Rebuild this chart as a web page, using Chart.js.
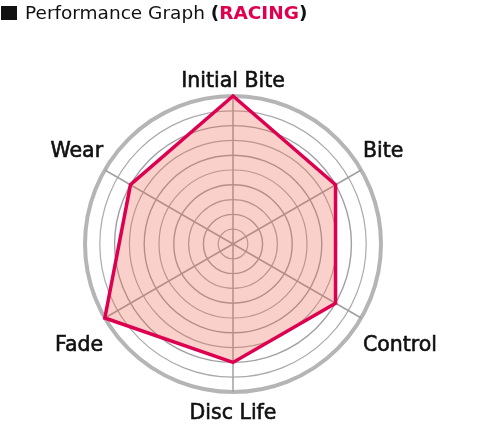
<!DOCTYPE html>
<html>
<head>
<meta charset="utf-8">
<script src="https://cdn.jsdelivr.net/npm/chart.js@4/dist/chart.umd.min.js"></script>
<style>
  html, body { margin: 0; padding: 0; background: #fff; }
  #wrap { position: relative; width: 500px; height: 425px; }
  #title {
    position: absolute; left: 1px; top: 3px;
    font-family: "DejaVu Sans", sans-serif;
    font-size: 18.5px; color: #111; line-height: 20px; white-space: nowrap;
  }
  #title .sq { display: inline-block; width: 16px; height: 14px; background: #111; margin-right: 8px; vertical-align: -1px; }
  #title b { font-weight: bold; }
  #title .red { color: #e0004e; }
  #chartBox { position: absolute; left: 0; top: 0; width: 500px; height: 425px; }
</style>
</head>
<body>
<div id="wrap">
  <div id="chartBox"><canvas id="radar" width="500" height="425"></canvas></div>
  <div id="title"><span class="sq"></span>Performance Graph <b>(<span class="red">RACING</span>)</b></div>
</div>
<script>
const categories = ["Initial Bite", "Bite", "Control", "Disc Life", "Fade", "Wear"];
const racingValues = [10, 8, 8, 8, 10, 8];
const scaleMax = 10;

const ctx = document.getElementById("radar").getContext("2d");

// axis names drawn next to the outer ring, placed from the scale's own positions
const axisLabelPlugin = {
  id: "axisLabels",
  afterDraw(chart) {
    const { ctx } = chart;
    const scale = chart.scales.r;
    const cx = scale.xCenter;
    const cy = scale.yCenter;

    ctx.save();
    ctx.font = "20.5px 'DejaVu Sans', sans-serif";
    ctx.fillStyle = "#111";
    ctx.strokeStyle = "#111";
    ctx.lineWidth = 0.6;
    ctx.textBaseline = "alphabetic";

    categories.forEach((name, i) => {
      const p = scale.getPointPosition(i, scale.drawingArea + 2);
      const dx = p.x - cx;
      const dy = p.y - cy;
      let y;
      if (Math.abs(dx) < 1) {
        ctx.textAlign = "center";
        y = p.y + (dy < 0 ? -7 : 25);
      } else {
        ctx.textAlign = dx > 0 ? "left" : "right";
        y = p.y + (dy < 0 ? -12 : 32);
      }
      ctx.fillText(name, p.x, y);
      ctx.strokeText(name, p.x, y);
    });

    ctx.restore();
  }
};

new Chart(ctx, {
  type: "radar",
  data: {
    labels: categories,
    datasets: [{
      label: "RACING",
      data: racingValues,
      borderColor: "#de0050",
      borderWidth: 3.5,
      backgroundColor: "rgba(238, 100, 80, 0.3)",
      pointRadius: 0,
      pointHoverRadius: 0,
      borderJoinStyle: "miter",
      fill: true,
      clip: false
    }]
  },
  options: {
    responsive: false,
    animation: false,
    layout: {
      padding: { left: 85, right: 119, top: 96, bottom: 33 }
    },
    scales: {
      r: {
        min: 0,
        max: scaleMax,
        ticks: { display: false, stepSize: 1 },
        grid: {
          circular: true,
          color: (c) => c.index === scaleMax ? "#b5b5b5" : (c.index % 2 === 0 ? "#a0a0a0" : "#aaaaaa"),
          lineWidth: (c) => c.index === scaleMax ? 4 : (c.index % 2 === 0 ? 1.4 : 1.2)
        },
        angleLines: { color: "#a0a0a0", lineWidth: 1.5 },
        pointLabels: { display: false }
      }
    },
    plugins: {
      legend: { display: false },
      tooltip: { enabled: false }
    }
  },
  plugins: [axisLabelPlugin]
});
</script>
</body>
</html>
